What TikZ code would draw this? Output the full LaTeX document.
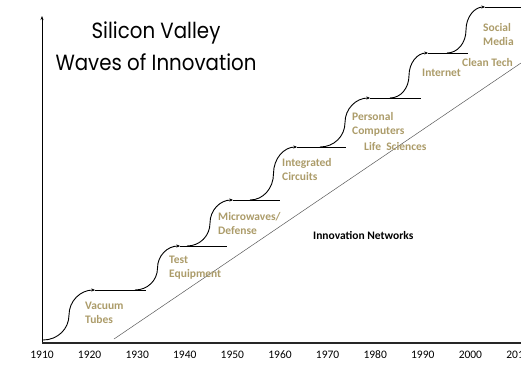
\documentclass[tikz,border=0pt]{standalone}
\usepackage{fontspec}
\setmainfont{Carlito}
\newfontfamily\titlefont[FakeStretch=0.9]{Poppins}
\usetikzlibrary{arrows.meta}
\definecolor{wavetan}{RGB}{172,156,106}
\begin{document}
\begin{tikzpicture}[x=1pt,y=-1pt,
  wave/.style={line width=0.9pt,-{Stealth[length=3.5pt,width=3pt]}},
  plateau/.style={line width=0.9pt},
  era/.style={text=wavetan,font=\bfseries\fontsize{11.5}{14}\selectfont,align=left,anchor=west,inner sep=0pt},
  year/.style={font=\fontsize{11.5}{13}\selectfont,inner sep=0pt}]
  \useasboundingbox (0,0) rectangle (521,378);
  \coordinate (origin) at (42,343);
  \coordinate (ytop) at (42,16);
  \coordinate (xend) at (521,343);
  \draw[line width=1pt,-{Stealth[length=4pt,width=3pt]}] (origin) -- (ytop);
  \draw[line width=1.4pt,gray!30!black] (origin) -- (xend);
  % decades along the bottom
  \foreach \yr [count=\i from 0] in {1910,1920,...,2010}
    \node[year] (t\yr) at (42+47.6*\i,355) {\yr};

  % innovation networks
  \coordinate (netlow) at (114,339);
  \coordinate (nethigh) at (521,63);
  \draw[gray!70!black,line width=0.5pt] (netlow) -- (nethigh);
  \node[font=\bfseries\fontsize{11.5}{13}\selectfont,anchor=west,inner sep=0pt] (networks) at (313,235) {Innovation Networks};

  % waves: rise start, rise end, plateau end
  \foreach \sx/\sy/\ex/\ey/\px [count=\n] in {43/340/95/290/146, 135/290/180/246/227,
      187/246/233/200/280, 250/200/297/147/346, 320/147/370/98/421,
      390/98/428/53/468, 447/53/485/7/521}{
    \coordinate (w\n-a) at (\sx,\sy);
    \coordinate (w\n-m) at ({(\sx+\ex)/2},{(\sy+\ey)/2});
    \coordinate (w\n-b) at (\ex,\ey);
    \coordinate (w\n-c) at (\px,\ey);
    \pgfmathsetmacro{\qx}{0.28*(\ex-\sx)}
    \pgfmathsetmacro{\qy}{0.28*(\sy-\ey)}
    \draw[wave] (w\n-a) .. controls +(\qx,0) and +(0,\qy) .. (w\n-m)
      .. controls +(0,-\qy) and +(-\qx,0) .. (w\n-b);
    \draw[plateau] (w\n-b) -- (w\n-c);
  }

  \node[era] (tubes) at (85,313) {Vacuum\\Tubes};
  \node[era] (equip) at (169,268) {Test\\Equipment};
  \node[era] (defense) at (218,224) {Microwaves/\\Defense};
  \node[era] (chips) at (282,170) {Integrated\\Circuits};
  \node[era] (pc) at (352,124.5) {Personal\\Computers};
  \node[era] (life) at (364,147) {Life\ \ Sciences};
  \node[era] (internet) at (422,73) {Internet};
  \node[era] (cleantech) at (462,63) {Clean Tech};
  \node[era] (social) at (483,35) {Social\\Media};

  \node[font=\titlefont\fontsize{22}{32}\selectfont,align=center] (title) at (156,46) {Silicon Valley\\Waves of Innovation};
\end{tikzpicture}
\end{document}
